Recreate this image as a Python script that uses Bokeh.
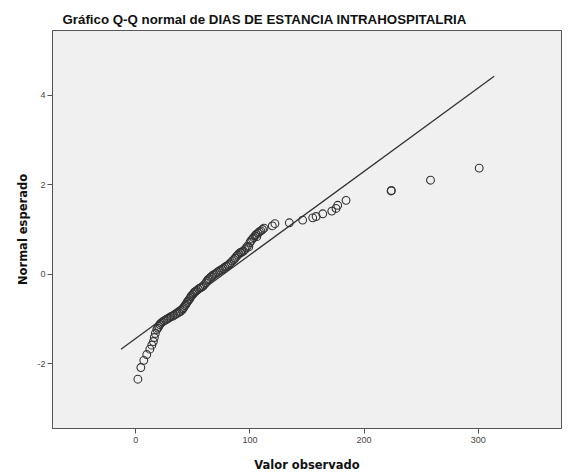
from bokeh.plotting import figure
from bokeh.models import Range1d, FixedTicker
from bokeh.embed import file_html
from bokeh.resources import INLINE

obs = [1.8, 4.4, 7.0, 9.6, 12.3, 14.0, 15.4, 16.2, 17.1, 18.4, 19.3, 20.2, 21.0,
       22.0, 23.3, 24.6, 26.0, 27.2, 28.5, 29.8, 31.0, 32.5, 33.7, 35.0, 36.3,
       37.7, 39.0, 40.4, 41.2, 42.0, 43.0, 43.9, 44.8, 45.6, 46.5, 47.4, 48.2,
       49.0, 50.2, 51.3, 52.4, 53.5, 54.8, 56.0, 57.4, 58.8, 60.0, 61.4, 62.3,
       63.2, 64.3, 65.4, 66.5, 67.5, 68.8, 70.2, 71.5, 72.8, 74.0, 75.4, 76.7,
       78.0, 79.3, 80.7, 82.0, 83.3, 84.6, 86.0, 87.0, 88.2, 89.3, 90.4, 91.7,
       92.0, 93.0, 94.3, 95.6, 96.7, 97.8, 99.0, 100.0, 101.0, 102.2, 103.3,
       104.4, 105.5, 106.0, 107.0, 108.3, 109.6, 111.0, 112.3, 119.6, 121.9,
       134.5, 146.2, 155.0, 158.0, 163.8, 171.7, 175.4, 176.9, 184.2, 223.7,
       223.9, 258.2, 300.9]
expected = [-2.34, -2.08, -1.92, -1.79, -1.67, -1.58, -1.50, -1.41, -1.32, -1.23,
            -1.20, -1.16, -1.12, -1.09, -1.06, -1.04, -1.02, -1.00, -0.98, -0.96,
            -0.94, -0.93, -0.91, -0.89, -0.87, -0.85, -0.83, -0.80, -0.77, -0.74,
            -0.70, -0.67, -0.63, -0.60, -0.57, -0.54, -0.50, -0.47, -0.44, -0.40,
            -0.38, -0.36, -0.33, -0.31, -0.29, -0.27, -0.23, -0.19, -0.15, -0.12,
            -0.10, -0.07, -0.05, -0.02, 0.00, 0.02, 0.05, 0.07, 0.09, 0.11, 0.13,
            0.16, 0.18, 0.20, 0.23, 0.26, 0.30, 0.33, 0.36, 0.40, 0.43, 0.46, 0.49,
            0.48, 0.50, 0.52, 0.55, 0.59, 0.63, 0.61, 0.71, 0.75, 0.79, 0.82, 0.86,
            0.89, 0.84, 0.92, 0.95, 0.97, 1.00, 1.03, 1.08, 1.13, 1.15, 1.21, 1.26,
            1.29, 1.35, 1.41, 1.47, 1.54, 1.65, 1.86, 1.87, 2.10, 2.37]

# Reference line endpoints
line_x = [-13, 314]
line_y = [-1.67, 4.42]

x_ticks = [0, 100, 200, 300]
y_ticks = [-2, 0, 2, 4]
y_tick_labels = {-2: "-2", 0: "0", 2: "2", 4: "4"}

p = figure(width=570, height=475, output_backend="svg", toolbar_location=None,
           x_range=Range1d(-73, 373), y_range=Range1d(-3.44, 5.44),
           title="Gráfico Q-Q normal de DIAS DE ESTANCIA INTRAHOSPITALRIA",
           min_border_left=52, min_border_right=9, min_border_top=30,
           min_border_bottom=47)

p.background_fill_color = "#F0F0F0"
p.border_fill_color = "white"
p.outline_line_color = "#555555"
p.outline_line_width = 1
p.grid.visible = False

p.title.text_font = "Liberation Sans"
p.title.text_font_size = "13.3px"
p.title.text_font_style = "bold"
p.title.text_color = "#111111"
p.title.offset = 10
p.title.standoff = 7

p.line(line_x, line_y, line_color="#333333", line_width=1.3)
p.scatter(obs, expected, marker="circle", size=7.8, fill_color=None,
          line_color="#333333", line_width=1.1)

for ax in (p.xaxis[0], p.yaxis[0]):
    ax.axis_line_color = "#555555"
    ax.major_tick_line_color = "#555555"
    ax.minor_tick_line_color = None
    ax.major_tick_in = 0
    ax.major_tick_out = 5
    ax.major_label_text_font = "Liberation Sans"
    ax.major_label_text_font_size = "9px"
    ax.major_label_text_color = "#444444"
    ax.axis_label_text_font = "DejaVu Sans"
    ax.axis_label_text_font_size = "11.5px"
    ax.axis_label_text_font_style = "bold"
    ax.axis_label_text_color = "#111111"

p.xaxis.ticker = FixedTicker(ticks=x_ticks)
p.yaxis.ticker = FixedTicker(ticks=y_ticks)
p.yaxis.major_label_overrides = y_tick_labels
p.xaxis.axis_label = "Valor observado"
p.yaxis.axis_label = "Normal esperado"
p.xaxis.major_label_standoff = 3
p.yaxis.major_label_standoff = 2
p.xaxis.axis_label_standoff = 12
p.yaxis.axis_label_standoff = 4

open("out.html", "w").write(file_html(p, INLINE))
